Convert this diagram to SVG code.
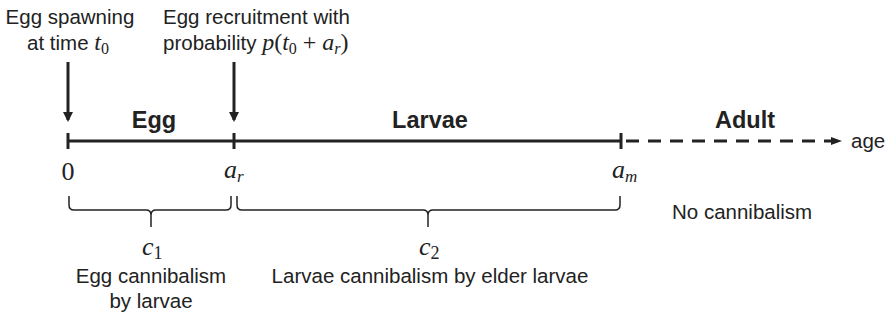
<svg xmlns="http://www.w3.org/2000/svg" width="896" height="321" viewBox="0 0 896 321">
<style>
.t{font-family:"Liberation Sans",Arial,sans-serif;font-size:20.5px;fill:#222}
.b{font-family:"Liberation Sans",Arial,sans-serif;font-size:23.5px;font-weight:bold;fill:#222}
.m{font-family:"Liberation Serif","Times New Roman",serif;font-style:italic;fill:#222}
.u{font-family:"Liberation Serif","Times New Roman",serif;fill:#222}
.ax{stroke:#222;stroke-width:3;fill:none}
.br{stroke:#222;stroke-width:1.5;fill:none}
</style>
<defs>
<marker id="ah" markerWidth="10" markerHeight="10" refX="8" refY="5" orient="auto" markerUnits="userSpaceOnUse">
<path d="M0,0 L10,5 L0,10 z" fill="#222"/>
</marker>
<marker id="ahs" markerWidth="12" markerHeight="10" refX="11" refY="4" orient="auto" markerUnits="userSpaceOnUse">
<path d="M0,0 L11,4 L0,8 z" fill="#222"/>
</marker>
</defs>
<g id="labels-top">
<text class="t" x="70" y="24" text-anchor="middle" font-size="21">Egg spawning</text>
<text class="t" x="68" y="50" text-anchor="middle" font-size="21">at time <tspan class="m" font-size="24">t</tspan><tspan class="u" font-size="16" dy="4">0</tspan></text>
<text class="t" x="163" y="24" font-size="21">Egg recruitment with</text>
<text class="t" x="163" y="50" font-size="21">probability <tspan class="m" font-size="24">p</tspan><tspan class="u" font-size="24">(</tspan><tspan class="m" font-size="24">t</tspan><tspan class="u" font-size="16" dy="4">0</tspan><tspan class="u" font-size="24" dy="-4"> + </tspan><tspan class="m" font-size="24">a</tspan><tspan class="m" font-size="16" dy="4">r</tspan><tspan class="u" font-size="24" dy="-4">)</tspan></text>
</g>
<g id="connectors">
<line class="ax" x1="68" y1="62" x2="68" y2="120" marker-end="url(#ah)"/>
<line class="ax" x1="234" y1="62" x2="234" y2="120" marker-end="url(#ah)"/>
<line class="ax" x1="68" y1="141" x2="621" y2="141"/>
<line class="ax" x1="68" y1="133" x2="68" y2="149"/>
<line class="ax" x1="234" y1="133" x2="234" y2="149"/>
<line class="ax" x1="621" y1="133" x2="621" y2="149"/>
<line class="ax" x1="626" y1="141" x2="842" y2="141" stroke-dasharray="13 9" marker-end="url(#ahs)"/>
</g>
<g id="stages">
<text class="b" x="154" y="128" text-anchor="middle">Egg</text>
<text class="b" x="430" y="128" text-anchor="middle">Larvae</text>
<text class="b" x="745" y="128" text-anchor="middle">Adult</text>
<text class="t" x="851" y="148" font-size="24">age</text>
</g>
<g id="axis-labels">
<text class="u" x="68" y="180" font-size="26" text-anchor="middle">0</text>
<text x="224" y="178"><tspan class="m" font-size="26">a</tspan><tspan class="m" font-size="17" dy="4">r</tspan></text>
<text x="612" y="178"><tspan class="m" font-size="26">a</tspan><tspan class="m" font-size="17" dy="4">m</tspan></text>
</g>
<g id="braces">
<path class="br" d="M69,196 V205 Q69,210 74,210 H146 Q151,210 151,215 V227 M151,215 Q151,210 156,210 H226 Q231,210 231,205 V196"/>
<path class="br" d="M237,196 V205 Q237,210 242,210 H423 Q428,210 428,215 V227 M428,215 Q428,210 433,210 H615 Q620,210 620,205 V196"/>
</g>
<g id="brace-labels">
<text x="142" y="255"><tspan class="m" font-size="26">c</tspan><tspan class="u" font-size="18" dy="4">1</tspan></text>
<text x="419" y="255"><tspan class="m" font-size="26">c</tspan><tspan class="u" font-size="18" dy="4">2</tspan></text>
<text class="t" x="151" y="283" text-anchor="middle">Egg cannibalism</text>
<text class="t" x="151" y="308" text-anchor="middle">by larvae</text>
<text class="t" x="430" y="283" text-anchor="middle">Larvae cannibalism by elder larvae</text>
<text class="t" x="672" y="219">No cannibalism</text>
</g>
</svg>
